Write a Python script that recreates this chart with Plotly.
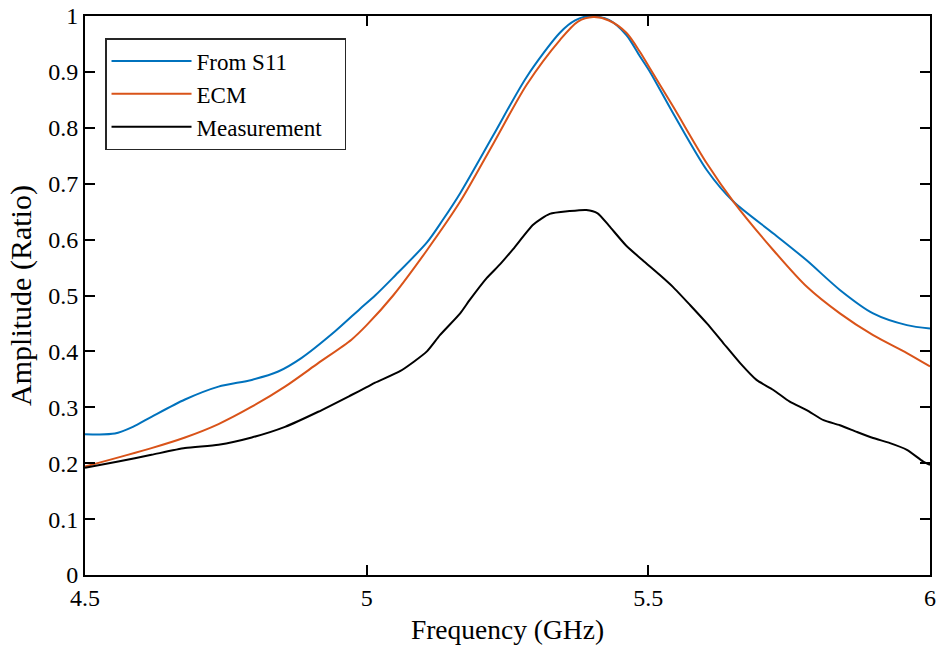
import plotly.graph_objects as go

# From S11 (blue)
f_s11 = [4.50, 4.553, 4.585, 4.618, 4.6775, 4.737, 4.796, 4.843, 4.884, 4.944, 4.988,
         5.015, 5.047, 5.107, 5.135, 5.166, 5.225, 5.284, 5.343, 5.37, 5.396, 5.43, 5.461,
         5.485, 5.503, 5.544, 5.604, 5.651, 5.722, 5.781, 5.84, 5.899, 5.959, 6.0]
a_s11 = [0.252, 0.253, 0.265, 0.283, 0.314, 0.337, 0.349, 0.364, 0.388, 0.436, 0.476,
         0.500, 0.532, 0.595, 0.635, 0.683, 0.787, 0.891, 0.970, 0.992, 1.0, 0.993, 0.966,
         0.928, 0.900, 0.826, 0.724, 0.668, 0.611, 0.563, 0.510, 0.468, 0.447, 0.441]

# ECM (orange)
f_ecm = [4.50, 4.618, 4.6775, 4.737, 4.796, 4.855, 4.914, 4.973, 5.0, 5.047,
         5.107, 5.166, 5.225, 5.284, 5.343, 5.375, 5.402, 5.43, 5.461, 5.485, 5.503,
         5.544, 5.604, 5.651, 5.722, 5.781, 5.84, 5.899, 5.959, 6.0]
a_ecm = [0.194, 0.227, 0.246, 0.270, 0.301, 0.337, 0.379, 0.421, 0.447, 0.500,
         0.581, 0.668, 0.772, 0.877, 0.957, 0.990, 0.998, 0.992, 0.970, 0.936, 0.906,
         0.838, 0.736, 0.668, 0.581, 0.516, 0.468, 0.429, 0.397, 0.373]

# Measurement (black)
f_meas = [4.50, 4.559, 4.618, 4.6775, 4.737, 4.796, 4.855, 4.914, 4.973, 5.0, 5.015,
          5.06, 5.107, 5.13, 5.166, 5.183, 5.213, 5.237, 5.26, 5.296, 5.325, 5.36, 5.39,
          5.41, 5.43, 5.46, 5.49, 5.52, 5.544, 5.574, 5.604, 5.633, 5.663,
          5.692, 5.722, 5.751, 5.781, 5.811, 5.84, 5.87, 5.899, 5.929, 5.959, 5.988, 6.0]
a_meas = [0.192, 0.203, 0.215, 0.227, 0.233, 0.246, 0.265, 0.292, 0.322, 0.336, 0.344,
          0.365, 0.400, 0.429, 0.468, 0.492, 0.531, 0.556, 0.583, 0.627, 0.646, 0.651, 0.653,
          0.647, 0.625, 0.590, 0.563, 0.537, 0.515, 0.483, 0.450, 0.415, 0.379,
          0.349, 0.331, 0.310, 0.295, 0.277, 0.268, 0.256, 0.245, 0.236, 0.224, 0.203, 0.197]

x_ticks = [4.5, 5, 5.5, 6]
y_ticks = [0, 0.1, 0.2, 0.3, 0.4, 0.5, 0.6, 0.7, 0.8, 0.9, 1]

FONT = "Liberation Serif"
PAD = "\u00a0" * 3

fig = go.Figure()
fig.add_trace(go.Scatter(x=f_s11, y=a_s11, mode="lines", name="From S11",
                         line=dict(color="#0072BD", width=2, shape="spline", smoothing=0.8)))
fig.add_trace(go.Scatter(x=f_ecm, y=a_ecm, mode="lines", name="ECM",
                         line=dict(color="#D95319", width=2, shape="spline", smoothing=0.8)))
fig.add_trace(go.Scatter(x=f_meas, y=a_meas, mode="lines", name="Measurement" + PAD,
                         line=dict(color="black", width=2, shape="spline", smoothing=0.6)))

axis_common = dict(showline=True, linecolor="black", linewidth=2, mirror="allticks",
                   ticks="inside", ticklen=10, tickwidth=2, tickcolor="black",
                   showgrid=False, zeroline=False, automargin=False,
                   tickfont=dict(family=FONT, size=24, color="black"))

fig.update_xaxes(range=[4.5, 6], tickvals=x_ticks, ticktext=[str(v) for v in x_ticks],
                 title=dict(text="Frequency (GHz)", font=dict(family=FONT, size=27.5, color="black"),
                            standoff=10),
                 **axis_common)
fig.update_yaxes(range=[0, 1], tickvals=y_ticks, ticktext=[("%g" % v) for v in y_ticks],
                 title=dict(text="Amplitude (Ratio)", font=dict(family=FONT, size=30, color="black"),
                            standoff=8),
                 **axis_common)

fig.update_layout(
    width=937, height=650,
    margin=dict(l=85, r=7, t=16, b=75),
    plot_bgcolor="white", paper_bgcolor="white",
    font=dict(family=FONT, color="black"),
    legend=dict(x=0.0237, y=0.9606, xanchor="left", yanchor="top",
                bgcolor="white", bordercolor="#262626", borderwidth=1.5,
                font=dict(family=FONT, size=23, color="black"),
                itemwidth=80, tracegroupgap=0),
    showlegend=True,
)

fig.write_html("out.html")
